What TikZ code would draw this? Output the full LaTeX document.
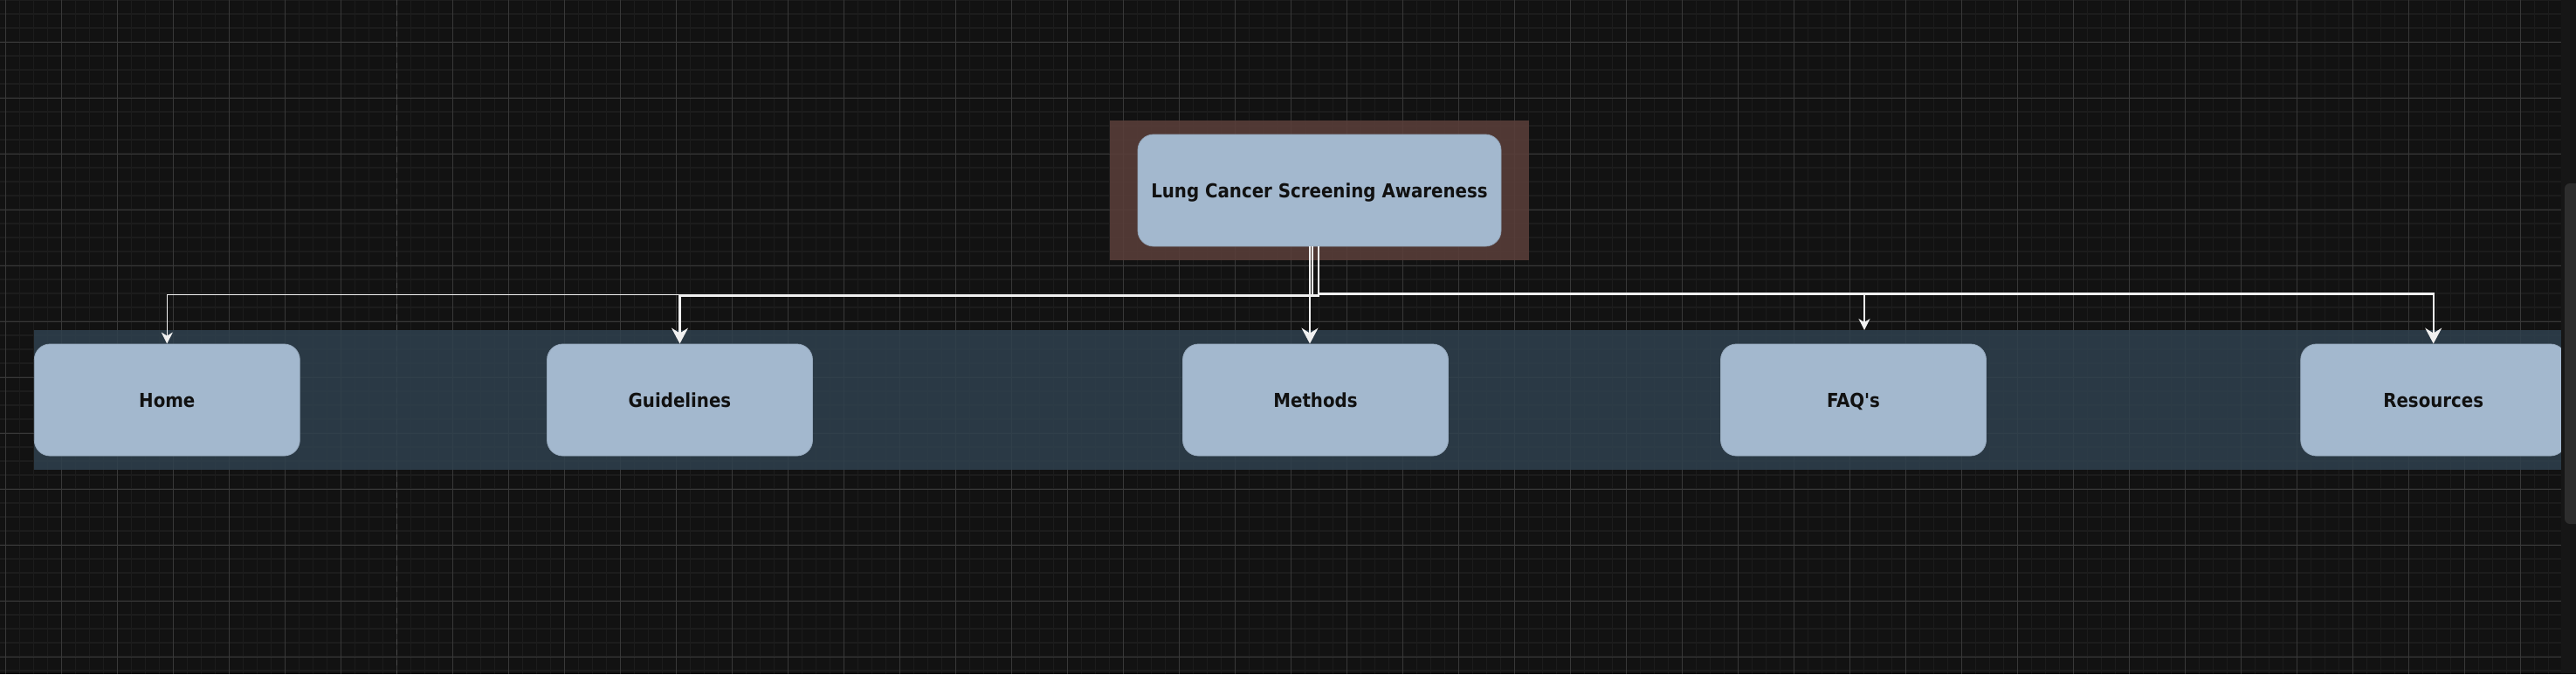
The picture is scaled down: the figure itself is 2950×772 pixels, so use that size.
\documentclass[tikz,border=0pt]{standalone}
\usepackage{fontspec}
\newfontfamily\labelfont{DejaVu Sans Condensed}
\usetikzlibrary{arrows.meta}
\definecolor{canvasbg}{HTML}{121212}
\definecolor{gridminor}{HTML}{1C1C1C}
\definecolor{gridmajor}{HTML}{383838}
\definecolor{gridguide}{HTML}{4A4A4A}
\definecolor{framebrown}{HTML}{5B3F3A}
\definecolor{lanefill}{HTML}{2F414E}
\definecolor{nodefill}{HTML}{A3B8CE}
\definecolor{nodeline}{HTML}{93A6BA}
\definecolor{nodetext}{HTML}{111111}
\definecolor{linkwhite}{HTML}{F0F0F0}
\definecolor{scrolltrack}{HTML}{161616}
\definecolor{scrollthumb}{HTML}{2D2D2D}
\tikzset{
  pagebox/.style={rectangle, rounded corners=18pt, fill=nodefill, draw=nodeline, line width=0.8pt,
    minimum width=304pt, minimum height=128pt, text=nodetext, text height=16pt, text depth=0pt,
    font=\labelfont\bfseries\fontsize{22}{26}\selectfont},
  topbox/.style={pagebox, minimum width=416pt},
  thicklink/.style={draw=linkwhite, line width=2.2pt, -{Stealth[length=18pt,width=19pt,inset=6pt]}},
  thinlink/.style={draw=linkwhite, line width=1.3pt, -{Stealth[length=13pt,width=13pt,inset=4pt]}},
}

\begin{document}
\begin{tikzpicture}[x=1pt,y=-1pt]
\useasboundingbox (0,0) rectangle (2950,772);
\fill[canvasbg] (0,0) rectangle (2950,772);

\begin{scope}
\clip (0,0) rectangle (2933,772);
\foreach \i in {0,...,183} {
	\draw[gridminor, line width=1.2pt] (6.7+16*\i,0) -- (6.7+16*\i,772);
}
\foreach \j in {0,...,48} {
	\draw[gridminor, line width=1.2pt] (0,16*\j) -- (2933,16*\j);
}
\foreach \i in {0,...,45} {
	\draw[gridmajor, line width=0.8pt] (6.7+64*\i,0) -- (6.7+64*\i,772);
}
\foreach \j in {0,...,11} {
	\draw[gridmajor, line width=0.8pt] (0,48+64*\j) -- (2933,48+64*\j);
}
\draw[gridguide, line width=1.4pt, dash pattern=on 6pt off 6pt] (454.7,0) -- (454.7,772);

\fill[framebrown, fill opacity=0.85] (1271,138) rectangle (1751,298);
\fill[lanefill, fill opacity=0.85] (39,378) rectangle (2945,538);
\end{scope}

\node[topbox] (lcsa) at (1511,218) {Lung Cancer Screening Awareness};
\node[pagebox] (home) at (191.3,458) {Home};
\node[pagebox] (guide) at (778.5,458) {Guidelines};
\node[pagebox] (methods) at (1506.5,458) {Methods};
\node[pagebox] (faq) at (2122.5,458) {FAQ's};
\node[pagebox] (res) at (2786.7,458) {Resources};
\coordinate (faqend) at (2135,378);

\draw[thinlink] ([xshift=-8pt]lcsa.south) -- ++(0,55.3) -| (home.north);
\draw[thicklink] ([xshift=-1pt]lcsa.south) -- ++(0,56) -| (guide.north);
\draw[thicklink] ([xshift=-11pt]lcsa.south) -- ([xshift=-11pt]lcsa.south |- methods.north);
\draw[thinlink] ([xshift=-1pt]lcsa.south) -- ++(0,54) -| (faqend);
\draw[thicklink] ([xshift=-1pt]lcsa.south) -- ++(0,54) -| (res.north);

\fill[scrolltrack] (2933,0) rectangle (2950,772);
\fill[scrollthumb, rounded corners=6pt] (2937,210) rectangle (2956,600);
\end{tikzpicture}
\end{document}
